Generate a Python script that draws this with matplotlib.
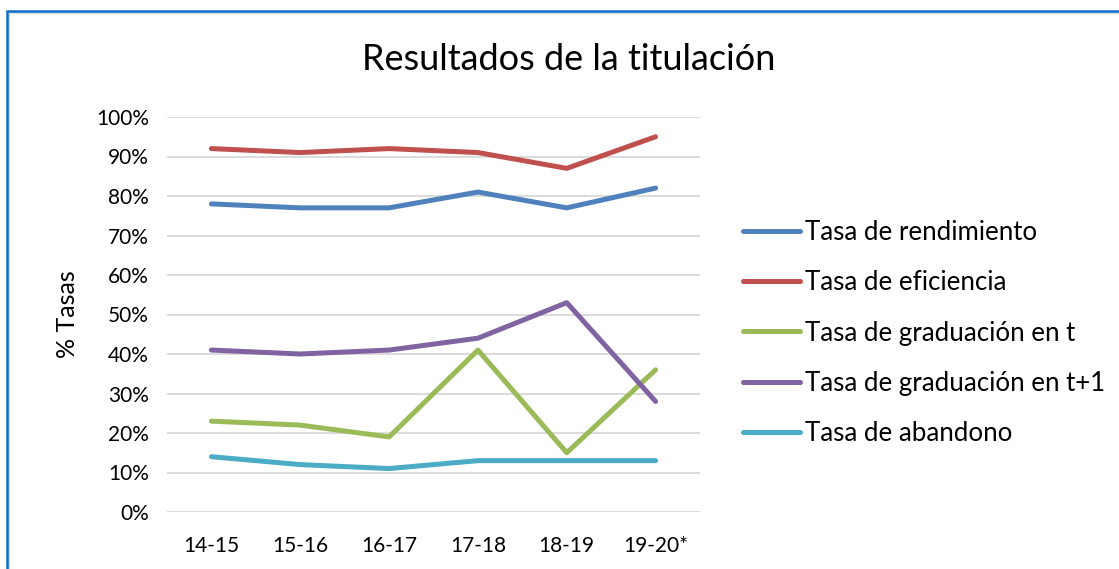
import matplotlib.pyplot as plt
from matplotlib.patches import Rectangle
from matplotlib.ticker import FuncFormatter

plt.rcParams['font.family'] = ['Lato', 'DejaVu Sans']

cursos = ["14-15", "15-16", "16-17", "17-18", "18-19", "19-20*"]
rendimiento = [78, 77, 77, 81, 77, 82]
eficiencia = [92, 91, 92, 91, 87, 95]
graduacion_t = [23, 22, 19, 41, 15, 36]
graduacion_t1 = [41, 40, 41, 44, 53, 28]
abandono = [14, 12, 11, 13, 13, 13]

series = [
    ("Tasa de rendimiento", rendimiento, "#4F81BD"),
    ("Tasa de eficiencia", eficiencia, "#C0504D"),
    ("Tasa de graduación en t", graduacion_t, "#9BBB59"),
    ("Tasa de graduación en t+1", graduacion_t1, "#8064A2"),
    ("Tasa de abandono", abandono, "#4BACC6"),
]

fig = plt.figure(figsize=(11.19, 5.69), dpi=100)
ax = fig.add_axes([167 / 1119, 1 - 512 / 569, (700 - 167) / 1119, (512 - 117) / 569])

x = list(range(len(cursos)))
for nombre, vals, color in series:
    ax.plot(x, vals, color=color, lw=3.6, solid_capstyle="round",
            solid_joinstyle="round", label=nombre)

ax.set_xlim(-0.5, len(cursos) - 0.5)
ax.set_ylim(0, 100)
ax.set_yticks(range(0, 101, 10))
ax.yaxis.set_major_formatter(FuncFormatter(lambda v, p: f"{int(v)}%"))
ax.set_xticks(x)
ax.set_xticklabels(cursos)
ax.grid(axis="y", color="#D9D9D9", lw=1.3)
ax.set_axisbelow(True)
for s in ax.spines.values():
    s.set_visible(False)
ax.tick_params(length=0, labelsize=15)
ax.tick_params(axis="y", pad=13)
ax.tick_params(axis="x", pad=17)
ax.set_ylabel("% Tasas", fontsize=18, labelpad=12)

fig.text(569 / 1119, 1 - 60 / 569, "Resultados de la titulación",
         ha="center", va="center", fontsize=26)

ax.legend(loc="center left", bbox_to_anchor=(743 / 1119, 1 - 333 / 569),
          bbox_transform=fig.transFigure, frameon=False, fontsize=18.6,
          handlelength=2.2, handletextpad=0.2, labelspacing=0.98,
          borderpad=0, borderaxespad=0)

# chart frame (blue border with light shadow)
fig.add_artist(Rectangle((8.5 / 1119, -0.1), 1.2, 1 - 13.5 / 569 + 0.1,
                         transform=fig.transFigure, fill=False,
                         edgecolor="#D9D9D9", lw=1.5))
fig.add_artist(Rectangle((6.8 / 1119, -0.1), 1.2, 1 - 11.5 / 569 + 0.1,
                         transform=fig.transFigure, fill=False,
                         edgecolor="#0A70C8", lw=1.8))

fig.savefig("out.png", dpi=100)
